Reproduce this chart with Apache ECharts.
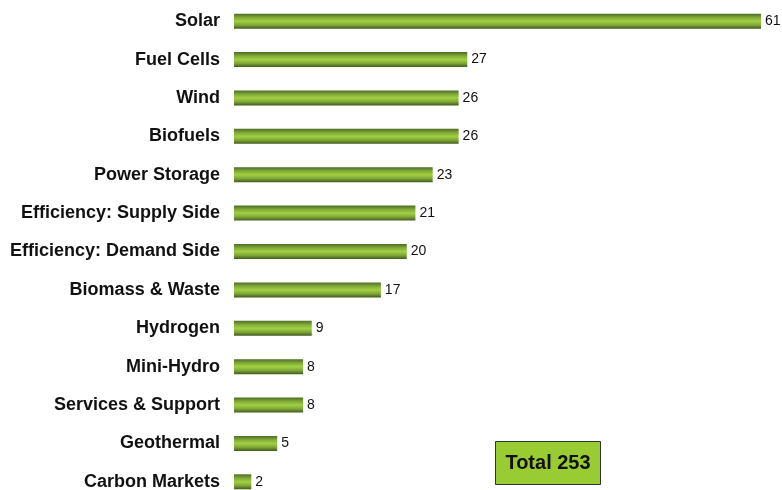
<!DOCTYPE html>
<html><head><meta charset="utf-8">
<script src="https://cdn.jsdelivr.net/npm/echarts@6/dist/echarts.min.js"></script>
<style>html,body{margin:0;padding:0;background:#fff;overflow:hidden}#c{width:782px;height:502px}</style>
</head><body><div id="c"></div>
<script>
var categories = ["Solar","Fuel Cells","Wind","Biofuels","Power Storage","Efficiency: Supply Side","Efficiency: Demand Side","Biomass & Waste","Hydrogen","Mini-Hydro","Services & Support","Geothermal","Carbon Markets"];
var values = [61,27,26,26,23,21,20,17,9,8,8,5,2];
var totalLabel = "Total";
var total = values.reduce(function(a,b){return a+b;},0);

var chart = echarts.init(document.getElementById('c'));
chart.setOption({
  animation:false,
  grid:{left:234, top:2, right:21, height:499, containLabel:false},
  xAxis:{type:'value', min:0, max:61, show:false},
  yAxis:{type:'category', data:categories, inverse:true,
    axisLine:{show:false}, axisTick:{show:false},
    axisLabel:{margin:14, color:'#111', fontFamily:'Liberation Sans, Arial, sans-serif', fontWeight:'bold', fontSize:18}},
  series:[{type:'bar', data:values, barWidth:15,
    itemStyle:{color:new echarts.graphic.LinearGradient(0,0,0,1,[
      {offset:0,color:'#4f6b22'},{offset:0.25,color:'#7fa83a'},{offset:0.5,color:'#a2d03f'},{offset:0.75,color:'#7fa83a'},{offset:1,color:'#42591a'}])},
    label:{show:true, position:'right', distance:4, color:'#111', fontFamily:'Liberation Sans, Arial, sans-serif', fontSize:14}
  }],
  graphic:[{type:'group', left:495, top:441, children:[
    {type:'rect', shape:{x:0,y:0,width:105,height:43}, style:{fill:'#99cc33', stroke:'#333', lineWidth:1}},
    {type:'text', x:52.5, y:21.5, style:{text:totalLabel+' '+total, fill:'#111', font:'bold 20px "Liberation Sans", Arial, sans-serif', textAlign:'center', textVerticalAlign:'middle'}}
  ]}]
});
</script></body></html>
